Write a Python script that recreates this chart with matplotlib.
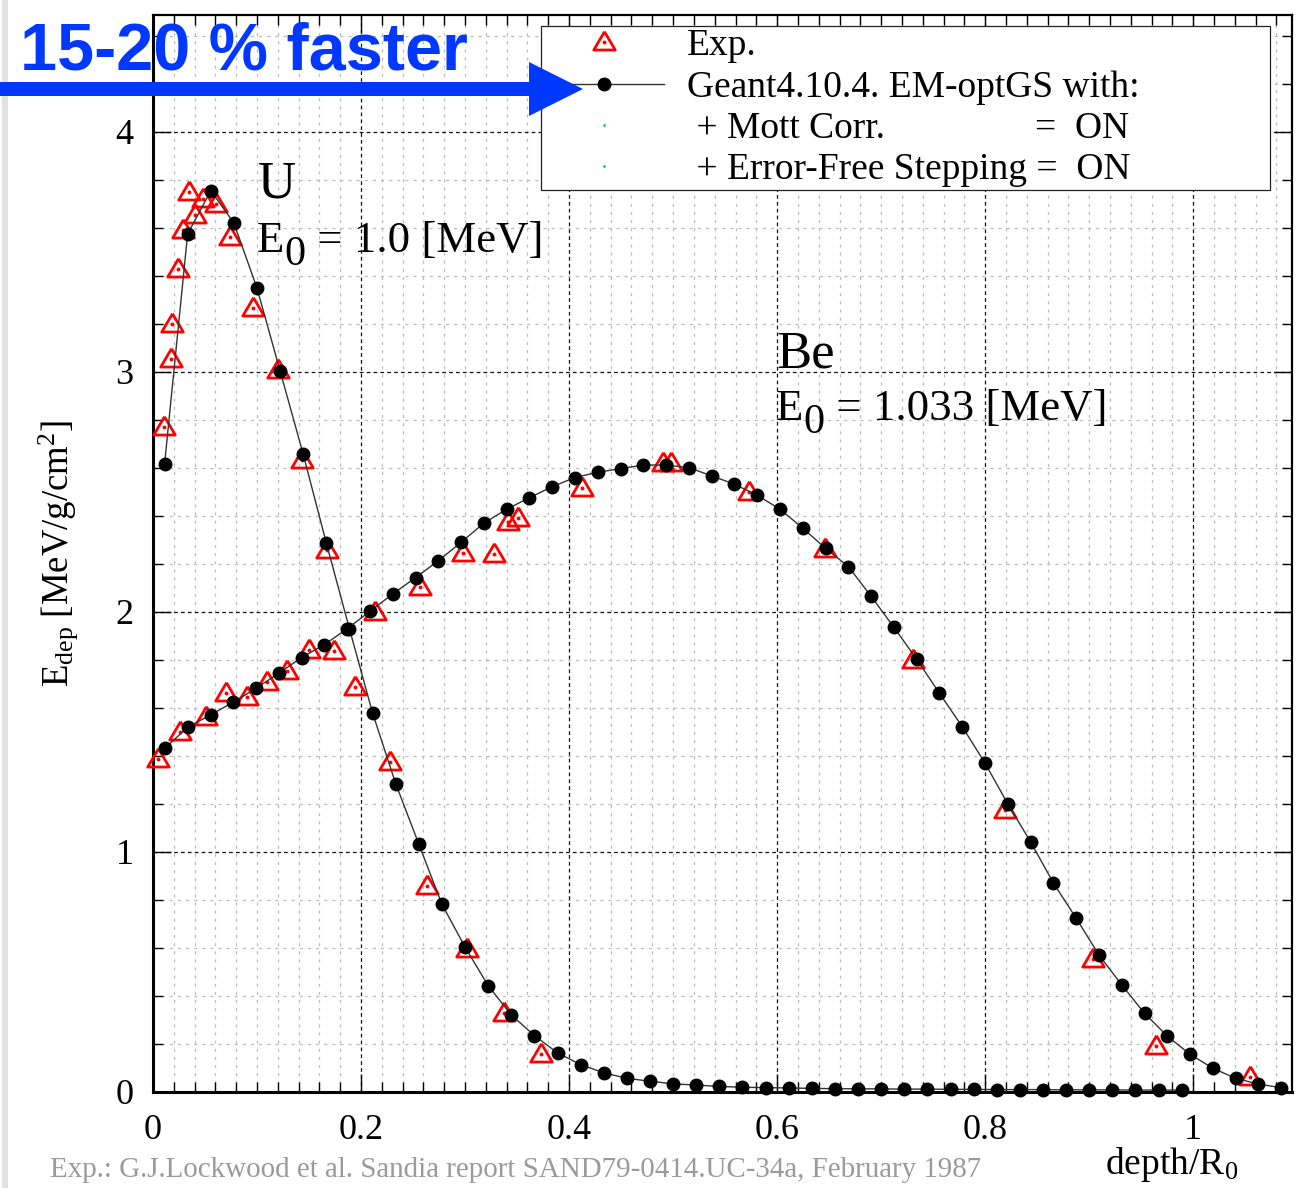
import matplotlib
matplotlib.use('Agg')
import matplotlib.pyplot as plt
from matplotlib.lines import Line2D
from matplotlib.legend_handler import HandlerLine2D, HandlerTuple
from matplotlib.patches import FancyArrow, Rectangle
from matplotlib.ticker import MultipleLocator, FuncFormatter

plt.rcParams['font.family'] = ['Liberation Serif', 'DejaVu Serif']
plt.rcParams['mathtext.fontset'] = 'custom'
plt.rcParams['mathtext.rm'] = 'Liberation Serif'
plt.rcParams['mathtext.it'] = 'Liberation Serif:italic'
plt.rcParams['mathtext.bf'] = 'Liberation Serif:bold'

# ---------------- data ----------------
u_sim_x = [0.0111, 0.0333, 0.0556, 0.0778, 0.1000, 0.1222, 0.1444, 0.1667, 0.1889, 0.2111,
           0.2333, 0.2556, 0.2778, 0.3000, 0.3222, 0.3444, 0.3667, 0.3889, 0.4111, 0.4333,
           0.4556, 0.4778, 0.5000, 0.5222, 0.5444, 0.5667, 0.5889, 0.6111, 0.6333, 0.6556,
           0.6778, 0.7000, 0.7222, 0.7444, 0.7667, 0.7889, 0.8111, 0.8333, 0.8556, 0.8778,
           0.9000, 0.9222, 0.9444, 0.9667, 0.9889]
u_sim_y = [2.615, 3.575, 3.755, 3.620, 3.349, 3.004, 2.657, 2.286, 1.929, 1.579,
           1.285, 1.032, 0.782, 0.604, 0.443, 0.321, 0.235, 0.163, 0.114, 0.080,
           0.057, 0.045, 0.034, 0.029, 0.023, 0.020, 0.018, 0.017, 0.015, 0.014,
           0.013, 0.013, 0.012, 0.012, 0.011, 0.011, 0.010, 0.010, 0.010, 0.009,
           0.009, 0.009, 0.008, 0.008, 0.008]

be_sim_x = [0.0115, 0.0334, 0.0553, 0.0772, 0.0991, 0.1210, 0.1429, 0.1648, 0.1867, 0.2086,
            0.2305, 0.2524, 0.2743, 0.2962, 0.3181, 0.3400, 0.3619, 0.3838, 0.4057, 0.4276,
            0.4495, 0.4714, 0.4933, 0.5152, 0.5371, 0.5590, 0.5809, 0.6028, 0.6247, 0.6466,
            0.6685, 0.6904, 0.7123, 0.7342, 0.7561, 0.7780, 0.7999, 0.8218, 0.8437, 0.8656,
            0.8875, 0.9094, 0.9313, 0.9532, 0.9751, 0.9970, 1.0189, 1.0408, 1.0627, 1.0846]
be_sim_y = [1.432, 1.520, 1.571, 1.624, 1.682, 1.745, 1.810, 1.864, 1.930, 2.003,
            2.075, 2.143, 2.213, 2.290, 2.370, 2.428, 2.476, 2.522, 2.560, 2.582,
            2.597, 2.612, 2.612, 2.601, 2.567, 2.532, 2.486, 2.428, 2.349, 2.265,
            2.189, 2.065, 1.936, 1.803, 1.661, 1.522, 1.370, 1.200, 1.042, 0.871,
            0.724, 0.571, 0.446, 0.328, 0.233, 0.157, 0.099, 0.057, 0.033, 0.018]

u_exp_x = [0.0106, 0.0170, 0.0180, 0.0238, 0.0291, 0.0349, 0.0404, 0.0484, 0.0606, 0.0740,
           0.0964, 0.1205, 0.1428, 0.1670, 0.1940, 0.2280, 0.2630, 0.3020, 0.3375, 0.3730]
u_exp_y = [2.770, 3.053, 3.200, 3.430, 3.590, 3.751, 3.654, 3.720, 3.700, 3.564,
           3.265, 3.008, 2.635, 2.258, 1.689, 1.373, 0.858, 0.595, 0.328, 0.158]

be_exp_x = [0.0051, 0.0260, 0.0510, 0.0700, 0.0900, 0.1100, 0.1286, 0.1500, 0.1740, 0.2135,
            0.2567, 0.2978, 0.3280, 0.3416, 0.3510, 0.4125, 0.4907, 0.4978, 0.5734, 0.6464,
            0.7310, 0.8195, 0.9040, 0.9644, 1.0548]
be_exp_y = [1.388, 1.501, 1.564, 1.661, 1.647, 1.710, 1.754, 1.842, 1.838, 2.001,
            2.105, 2.245, 2.240, 2.376, 2.390, 2.518, 2.620, 2.620, 2.499, 2.261,
            1.800, 1.175, 0.553, 0.192, 0.064]

tick_fmt = lambda v, p: f'{v:g}'
legend_labels = ['Exp.', 'Geant4.10.4. EM-optGS with:',
                 ' + Mott Corr.' + ' ' * 16 + '=  ON',
                 ' + Error-Free Stepping =  ON']

# ---------------- figure ----------------
W, H = 1298, 1188
fig = plt.figure(figsize=(W / 100, H / 100), dpi=100)
ax = fig.add_axes([153 / W, 1 - 1092 / H, (1292 - 153) / W, (1092 - 15) / H])
ax.set_xlim(0, 1.095)
ax.set_ylim(0, 4.487)

ax.xaxis.set_major_locator(MultipleLocator(0.2))
ax.xaxis.set_minor_locator(MultipleLocator(0.02))
ax.yaxis.set_major_locator(MultipleLocator(1))
ax.yaxis.set_minor_locator(MultipleLocator(0.2))
ax.xaxis.set_major_formatter(FuncFormatter(tick_fmt))
ax.yaxis.set_major_formatter(FuncFormatter(tick_fmt))

ax.set_axisbelow(True)
ax.grid(which='minor', color='#bdbdbd', linestyle=(0, (2.5, 4.0)), lw=0.9)
ax.grid(which='major', color='#111111', linestyle=(0, (3.0, 2.5)), lw=0.9)

ax.tick_params(which='both', direction='in', top=True, right=True, width=1.0,
               colors='black')
ax.tick_params(which='major', length=13, labelsize=26)
ax.tick_params(which='minor', length=7)
ax.tick_params(axis='y', which='major', pad=14)
ax.tick_params(axis='x', which='major', pad=15.5)
for s in ['left', 'bottom']:
    ax.spines[s].set_linewidth(2.2)
for s in ['top', 'right']:
    ax.spines[s].set_linewidth(1.6)

# experimental: open red triangles with a small dot
tri = [(0, 1.0), (-1, -0.7), (1, -0.7), (0, 1.0)]
exp_style = dict(linestyle='none', marker=tri, ms=15.5, mfc='none', mec='#ff0000', mew=2.0)
dot_style = dict(linestyle='none', marker='o', ms=1.8, color='#ff0000')
for xs, ys in [(u_exp_x, u_exp_y), (be_exp_x, be_exp_y)]:
    ax.plot(xs, ys, zorder=3, clip_on=False, **exp_style)
    ax.plot(xs, ys, zorder=3, clip_on=False, **dot_style)

sim_style = dict(color='#333333', lw=1.0, marker='o', ms=9, mfc='black', mec='black')
for xs, ys in [(u_sim_x, u_sim_y), (be_sim_x, be_sim_y)]:
    ax.plot(xs, ys, zorder=4, clip_on=False, **sim_style)

# annotations
ax.text(0.101, 3.725, 'U', fontsize=38, va='baseline', ha='left')
ax.text(0.599, 3.017, 'Be', fontsize=38, va='baseline', ha='left')


def e0_label(x, y, value):
    tE = ax.text(x, y, 'E', fontsize=32.3, va='baseline', ha='left')
    t0 = ax.annotate('0', xy=(1, 0), xycoords=tE, xytext=(0, -13),
                     textcoords='offset pixels', fontsize=30.5, va='bottom', ha='left')
    ax.annotate(' = ' + value, xy=(1, 0), xycoords=(t0, tE), xytext=(0, 0),
                textcoords='offset pixels', fontsize=32.3, va='bottom', ha='left')


e0_label(0.100, 3.50, '1.0 [MeV]')
e0_label(0.599, 2.80, '1.033 [MeV]')

ax.set_ylabel(r'E$_{\mathrm{dep}}$ [MeV/g/cm$^{2}$]', fontsize=26.5)
ax.yaxis.set_label_coords(-0.064, 0.5)
ax.set_xlabel(r'depth/R$_{0}$', fontsize=27)
ax.xaxis.set_label_coords((1105 - 153) / 1139, -(1174 - 1092) / 1077)
ax.xaxis.label.set_ha('left')
ax.xaxis.label.set_va('baseline')


# legend
class MarkerAt(HandlerLine2D):
    def __init__(self, frac=0.5, **kw):
        super().__init__(**kw)
        self.frac = frac

    def get_xdata(self, legend, xdescent, ydescent, width, height, fontsize):
        return [-xdescent, -xdescent + width], [-xdescent + self.frac * width]


h_exp = (Line2D([], [], **exp_style), Line2D([], [], **dot_style))
h_sim = Line2D([], [], **sim_style)
h_b1 = Line2D([], [], linestyle='none', marker='s', ms=0.8, color='#00cc00')
h_b2 = Line2D([], [], linestyle='none', marker='s', ms=0.8, color='#00cc00')
leg = ax.legend([h_exp, h_sim, h_b1, h_b2], legend_labels,
                handler_map={Line2D: MarkerAt(0.578), tuple: HandlerTuple(ndivide=1, pad=0)},
                loc='upper left', bbox_to_anchor=(0.3407, 0.8375, 0.6400, 0.1523),
                mode='expand', fontsize=27, frameon=True, fancybox=False,
                edgecolor='#222222', framealpha=1, borderpad=0.08, labelspacing=0.18,
                handlelength=3.2, handletextpad=0.6, borderaxespad=0)
leg.get_frame().set_linewidth(0.9)
leg.set_zorder(6)

# footnote
fig.text(50 / W, 1 - 1177 / H,
         'Exp.: G.J.Lockwood et al. Sandia report SAND79-0414.UC-34a, February 1987',
         fontsize=20.9, color='#9a9a9a', va='baseline', ha='left')

# left page edge strip
fig.add_artist(Rectangle((2 / W, 0), 6 / W, 1, transform=fig.transFigure,
                         color='#e2e2e2', zorder=0.5, lw=0))

# blue arrow + text
blue = '#0038ff'
fig.add_artist(FancyArrow(0, 1 - 89 / H, 583 / W, 0, width=14 / H, head_width=54 / H,
                          head_length=54 / W, length_includes_head=True,
                          transform=fig.transFigure, color=blue, lw=0, zorder=10))
fig.text(468 / W, 1 - 70 / H, '15-20 % faster', fontsize=48, fontweight='bold',
         family='Liberation Sans', color=blue, ha='right', va='baseline', zorder=10)

fig.savefig('out.png', dpi=100)
